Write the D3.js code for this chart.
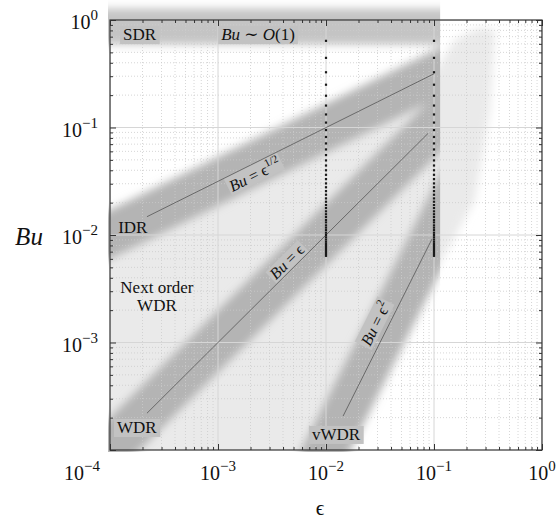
<!DOCTYPE html>
<html>
<head>
<meta charset="utf-8">
<script src="https://cdn.jsdelivr.net/npm/d3@7"></script>
<style>
  body { margin: 0; background: #fff; }
  text { font-family: "Liberation Serif", "DejaVu Serif", serif; fill: #111; }
</style>
</head>
<body>
<div id="chart"></div>
<script>
// tick values and their exponent labels
var xTickValues = [1e-4, 1e-3, 1e-2, 1e-1, 1];
var xTickExps = ['\u22124', '\u22123', '\u22122', '\u22121', '0'];
var yTickValues = [1, 1e-1, 1e-2, 1e-3];
var yTickExps = ['0', '\u22121', '\u22122', '\u22123'];

// regime bands (centre line end points, [eps, Bu])
var sdrBand = [[8e-5, 0.87], [0.2, 0.87]];
var idrBand = [[5e-5, 0.0072], [0.3, 0.53]];
var wdrBand = [[5e-5, 5.2e-5], [0.3, 0.3]];
var vwdrBand = [[0.0072, 5.2e-5], [0.3, 0.09]];
var bandCutEps = 0.114;

// light "next order" region outline
var fanRegion = [[5e-5, 5e-5], [5e-5, 0.0075], [0.092, 0.28], [0.156, 0.65], [0.255, 0.84],
                 [0.367, 0.81], [0.33, 0.146], [0.24, 0.0212], [0.126, 0.0065], [0.0076, 5e-5]];

// scaling laws
var idrLine = [[2.2e-4, 0.0148], [0.1, 0.316]];
var wdrLine = [[2.2e-4, 2.2e-4], [0.088, 0.088]];
var vwdrLine = [[0.0144, 2.07e-4], [0.0957, 0.00916]];

// sampled Bu values at eps = 0.01 and eps = 0.1
var dotEps = [0.01, 0.1];
var dotBu = [0.64, 0.4444, 0.3265, 0.25, 0.1975, 0.16, 0.1322, 0.1111, 0.0947, 0.0816,
             0.0711, 0.0625, 0.0554, 0.0494, 0.0443, 0.04, 0.0363, 0.0331, 0.0302, 0.0278,
             0.0256, 0.0237, 0.0219, 0.0204, 0.019, 0.0178, 0.0166, 0.0156, 0.0147, 0.0138,
             0.0131, 0.0123, 0.0117, 0.0111, 0.0105, 0.01, 0.00952, 0.00907, 0.00865, 0.00826,
             0.0079, 0.00756, 0.00724, 0.00694, 0.00666, 0.0064];

// flat labels: [eps, Bu] of text start (or middle)
var regimeLabels = [
    { text: 'SDR', at: [1.32e-4, 0.65], box: true },
    { text: 'IDR', at: [1.19e-4, 0.0104], box: false },
    { text: 'WDR', at: [1.16e-4, 1.44e-4], box: true },
    { text: 'vWDR', at: [0.0074, 1.24e-4], box: true }
];
var nextOrderLines = ['Next order', 'WDR'];
var nextOrderAt = [[2.72e-4, 0.00289], [2.72e-4, 0.00196]];

var margin = { top: 20, right: 14, bottom: 69, left: 110 };
var W = 556, H = 519;
var width = W - margin.left - margin.right;
var height = H - margin.top - margin.bottom;

var svg = d3.select('#chart').append('svg')
    .attr('width', W)
    .attr('height', H);

var x = d3.scaleLog().domain([1e-4, 1]).range([margin.left, margin.left + width]);
var y = d3.scaleLog().domain([1e-4, 1]).range([margin.top + height, margin.top]);

var defs = svg.append('defs');
defs.append('filter')
    .attr('id', 'blur')
    .attr('filterUnits', 'userSpaceOnUse')
    .attr('x', -50).attr('y', -50).attr('width', W + 100).attr('height', H + 100)
    .append('feGaussianBlur').attr('stdDeviation', 4.5);
defs.append('clipPath').attr('id', 'plotclip')
    .append('rect')
    .attr('x', margin.left).attr('y', margin.top)
    .attr('width', width).attr('height', height);
defs.append('clipPath').attr('id', 'bandclip')
    .append('rect')
    .attr('x', margin.left - 2).attr('y', 0)
    .attr('width', x(bandCutEps) - margin.left + 2)
    .attr('height', margin.top + height + 2);

var line = d3.line().x(function(d) { return x(d[0]); }).y(function(d) { return y(d[1]); });

// light region
svg.append('g').attr('clip-path', 'url(#plotclip)')
    .append('g').attr('filter', 'url(#blur)')
    .append('path')
    .attr('d', line(fanRegion) + 'Z')
    .attr('fill', '#eaeaea');

// dark bands
var bandG = svg.append('g').attr('clip-path', 'url(#bandclip)')
    .append('g').attr('filter', 'url(#blur)');
bandG.append('path').attr('d', line(sdrBand))
    .attr('stroke', '#c4c4c4').attr('stroke-width', 36).attr('fill', 'none');
[idrBand, wdrBand, vwdrBand].forEach(function(b) {
    bandG.append('path').attr('d', line(b))
        .attr('stroke', '#b4b4b4').attr('stroke-width', 44).attr('fill', 'none');
});

// grid
var grid = svg.append('g').attr('clip-path', 'url(#plotclip)');
var xMinor = x.ticks().filter(function(v) { return xTickValues.indexOf(v) < 0; });
var yMinor = y.ticks().filter(function(v) { return yTickValues.indexOf(v) < 0 && v !== 1e-4; });
grid.selectAll('.gx').data(xMinor).enter().append('line')
    .attr('x1', function(d) { return x(d); }).attr('x2', function(d) { return x(d); })
    .attr('y1', margin.top).attr('y2', margin.top + height)
    .attr('stroke', '#cbcbcb').attr('stroke-width', 0.8).attr('stroke-dasharray', '1,2');
grid.selectAll('.gy').data(yMinor).enter().append('line')
    .attr('y1', function(d) { return y(d); }).attr('y2', function(d) { return y(d); })
    .attr('x1', margin.left).attr('x2', margin.left + width)
    .attr('stroke', '#cbcbcb').attr('stroke-width', 0.8).attr('stroke-dasharray', '1,2');
grid.selectAll('.gX').data(xTickValues).enter().append('line')
    .attr('x1', function(d) { return x(d); }).attr('x2', function(d) { return x(d); })
    .attr('y1', margin.top).attr('y2', margin.top + height)
    .attr('stroke', '#d6d6d6').attr('stroke-width', 1);
grid.selectAll('.gY').data(yTickValues).enter().append('line')
    .attr('y1', function(d) { return y(d); }).attr('y2', function(d) { return y(d); })
    .attr('x1', margin.left).attr('x2', margin.left + width)
    .attr('stroke', '#d6d6d6').attr('stroke-width', 1);

// label with a grey box behind
function boxedText(g, build, anchor, pad) {
    var t = g.append('text').attr('text-anchor', anchor);
    build(t);
    var bb = t.node().getBBox();
    g.insert('rect', 'text')
        .attr('x', bb.x - pad).attr('y', bb.y + 1)
        .attr('width', bb.width + 2 * pad).attr('height', bb.height - 1)
        .attr('fill', '#c2c2c2');
    return t;
}

var labelG = svg.append('g');
regimeLabels.forEach(function(l) {
    var g = labelG.append('g').attr('transform', 'translate(' + x(l.at[0]) + ',' + y(l.at[1]) + ')');
    if (l.box) {
        boxedText(g, function(t) { t.attr('font-size', 17).text(l.text); }, 'start', 3);
    } else {
        g.append('text').attr('font-size', 17).text(l.text);
    }
});
nextOrderLines.forEach(function(s, i) {
    labelG.append('text')
        .attr('x', x(nextOrderAt[i][0])).attr('y', y(nextOrderAt[i][1]))
        .attr('text-anchor', 'middle').attr('font-size', 17).text(s);
});

// Bu ~ O(1)
var sdrG = labelG.append('g').attr('transform', 'translate(' + x(1.07e-3) + ',' + y(0.65) + ')');
boxedText(sdrG, function(t) {
    t.attr('font-size', 17);
    t.append('tspan').attr('font-style', 'italic').text('Bu');
    t.append('tspan').text(' \u223C ');
    t.append('tspan').attr('font-style', 'italic').text('O');
    t.append('tspan').text('(1)');
}, 'start', 3);

// rotated scaling-law labels
function angleOf(seg) {
    var dx = x(seg[1][0]) - x(seg[0][0]);
    var dy = y(seg[1][1]) - y(seg[0][1]);
    return Math.atan2(dy, dx) * 180 / Math.PI;
}
var lawLabels = [
    { seg: idrLine, at: [0.0022, 0.036], sup: '1/2' },
    { seg: wdrLine, at: [0.00436, 0.0056], sup: '' },
    { seg: vwdrLine, at: [0.029, 0.00149], sup: '2' }
];
lawLabels.forEach(function(l) {
    var g = labelG.append('g')
        .attr('transform', 'translate(' + x(l.at[0]) + ',' + y(l.at[1]) + ') rotate(' + angleOf(l.seg) + ')');
    boxedText(g, function(t) {
        t.attr('font-size', 16).attr('dy', 5);
        t.append('tspan').attr('font-style', 'italic').text('Bu');
        t.append('tspan').text(' = \u03F5');
        if (l.sup) t.append('tspan').attr('font-size', 11).attr('dy', -7).text(l.sup);
    }, 'middle', 2);
});

// thin scaling lines
[idrLine, wdrLine, vwdrLine].forEach(function(s) {
    svg.append('path').attr('d', line(s))
        .attr('stroke', '#555').attr('stroke-width', 0.8).attr('fill', 'none');
});

// dotted samples
dotEps.forEach(function(e) {
    svg.append('g').selectAll('rect').data(dotBu).enter().append('rect')
        .attr('x', x(e) - 1.1).attr('y', function(d) { return y(d) - 1.1; })
        .attr('width', 2.2).attr('height', 2.2)
        .attr('fill', '#1a1a1a');
});

// axes (ticks inward on all four sides)
var axes = svg.append('g').attr('color', '#333');
var xMinorAll = x.ticks().filter(function(v) { return xTickValues.indexOf(v) < 0; });
var yMajorAll = [1e-4, 1e-3, 1e-2, 1e-1, 1];
var yMinorAll = y.ticks().filter(function(v) { return yMajorAll.indexOf(v) < 0; });
function addAxis(gen, tx, ty, major, minor) {
    var g1 = axes.append('g').attr('transform', 'translate(' + tx + ',' + ty + ')')
        .call(gen.tickValues(major).tickSize(-6).tickFormat(''));
    var g2 = axes.append('g').attr('transform', 'translate(' + tx + ',' + ty + ')')
        .call(gen.tickValues(minor).tickSize(-3).tickFormat(''));
    g1.select('.domain').remove();
    g2.select('.domain').remove();
}
addAxis(d3.axisBottom(x), 0, margin.top + height, xTickValues, xMinorAll);
addAxis(d3.axisTop(x), 0, margin.top, xTickValues, xMinorAll);
addAxis(d3.axisLeft(y), margin.left, 0, yMajorAll, yMinorAll);
addAxis(d3.axisRight(y), margin.left + width, 0, yMajorAll, yMinorAll);
axes.append('rect')
    .attr('x', margin.left).attr('y', margin.top)
    .attr('width', width).attr('height', height)
    .attr('fill', 'none').attr('stroke', '#333').attr('stroke-width', 1.2);

// tick labels 10^n
function powerLabel(t, exp) {
    t.append('tspan').text('10');
    t.append('tspan').attr('font-size', 15).attr('dy', -9).text(exp);
}
xTickValues.forEach(function(v, i) {
    var t = svg.append('text')
        .attr('x', i === 0 ? x(v) - 10 : x(v))
        .attr('y', margin.top + height + 30)
        .attr('text-anchor', i === 0 ? 'end' : 'middle')
        .attr('font-size', 20);
    powerLabel(t, xTickExps[i]);
});
yTickValues.forEach(function(v, i) {
    var t = svg.append('text')
        .attr('x', margin.left - 12)
        .attr('y', y(v) + 9)
        .attr('text-anchor', 'end')
        .attr('font-size', 20);
    powerLabel(t, yTickExps[i]);
});

// axis titles
svg.append('text')
    .attr('x', margin.left + width / 2 - 6).attr('y', H - 4)
    .attr('text-anchor', 'middle').attr('font-size', 21)
    .text('\u03F5');
svg.append('text')
    .attr('x', 29).attr('y', y(1e-2) + 10)
    .attr('text-anchor', 'middle').attr('font-size', 25).attr('font-style', 'italic')
    .text('Bu');
</script>
</body>
</html>
